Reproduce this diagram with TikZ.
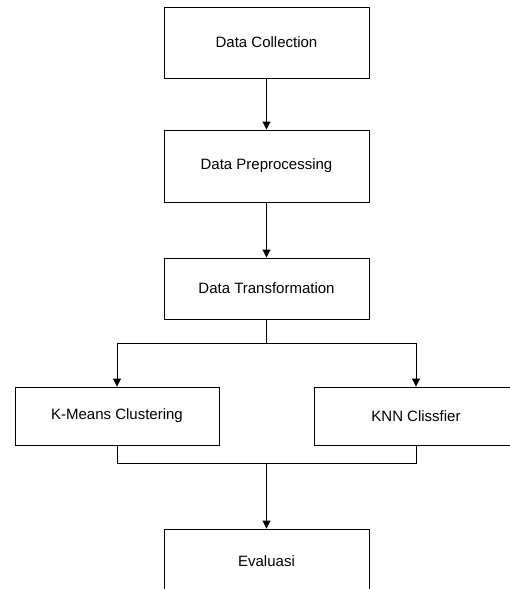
\documentclass[tikz,border=0pt]{standalone}
\usepackage{fontspec}
\setmainfont{Liberation Sans}
\usetikzlibrary{arrows.meta}
\begin{document}
\begin{tikzpicture}[x=1pt,y=-1pt,
  stepbox/.style={draw=black, line width=0.9pt, minimum width=205pt, inner sep=0pt, font=\fontsize{15}{18}\selectfont, anchor=center},
  conn/.style={draw=black, line width=0.9pt},
  arr/.style={conn, -{Triangle[width=8pt,length=8pt]}}]
\clip (0,0) rectangle (510,589);
\fill[white] (0,0) rectangle (510,589);
\node[stepbox, minimum height=71pt] (dc) at (266.5,42.5) {Data Collection};
\node[stepbox, minimum height=72pt] (dp) at (266.5,166) {Data Preprocessing};
\node[stepbox, minimum height=61pt] (dt) at (266.5,288.5) {Data Transformation};
\node[stepbox, minimum width=204pt, minimum height=58pt] (km) at (117,416) {K-Means Clustering};
\node[stepbox, minimum width=204pt, minimum height=58pt] (knn) at (416,416) {KNN Clissfier};
\node[stepbox, minimum height=80pt] (ev) at (266.5,569) {\raisebox{15pt}{Evaluasi}};
\coordinate (fork) at (266.5,343.5);
\coordinate (join) at (266.5,463.5);
\coordinate (jl) at (117,463.5);
\coordinate (jr) at (416,463.5);
\draw[arr] (dc.south) -- (dp.north);
\draw[arr] (dp.south) -- (dt.north);
\draw[conn] (dt.south) -- (fork);
\draw[arr] (fork) -| (km.north);
\draw[arr] (fork) -| (knn.north);
\draw[conn] (km.south) -- (jl) -- (jr) -- (knn.south);
\draw[arr] (join) -- (ev.north);
\end{tikzpicture}
\end{document}
